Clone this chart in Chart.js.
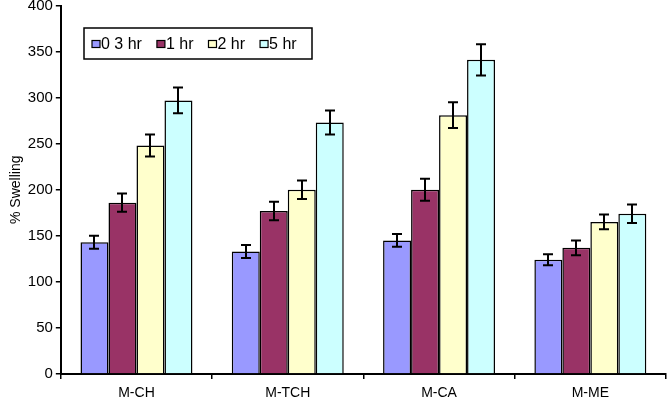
<!DOCTYPE html>
<html>
<head>
<meta charset="utf-8">
<script src="https://cdn.jsdelivr.net/npm/chart.js@4"></script>
<style>
  html, body { margin: 0; padding: 0; background: #fff; width: 667px; height: 400px; overflow: hidden; }
  #wrap { width: 667px; height: 412px; margin-top: -5px; }
</style>
</head>
<body>
<div id="wrap"><canvas id="chart"></canvas></div>
<script>
// samples on the x axis
const categories = ["M-CH", "M-TCH", "M-CA", "M-ME"];

// % swelling at each time
const swell03 = [143, 133, 145, 124];
const swell1 = [186, 177, 200, 137];
const swell2 = [248, 200, 281, 165];
const swell5 = [297, 273, 341, 174];

// error bars (+/-)
const err03 = [7, 7, 7, 6];
const err1 = [10, 10, 12, 8];
const err2 = [12, 10, 14, 8];
const err5 = [14, 13, 17, 10];

const yTicks = [0, 50, 100, 150, 200, 250, 300, 350, 400];

const makeSet = (label, data, errs, color) => ({
  label: label,
  data: data,
  errs: errs,
  backgroundColor: color,
  borderColor: "#000",
  borderWidth: 1.5,
  borderSkipped: "bottom",
});

// draws the +/- error whiskers from dataset.errs
const errorBars = {
  id: "errorBars",
  afterDatasetsDraw(chart) {
    const ctx = chart.ctx;
    const y = chart.scales.y;
    ctx.save();
    ctx.strokeStyle = "#000";
    ctx.lineWidth = 2;
    chart.data.datasets.forEach((ds, i) => {
      const meta = chart.getDatasetMeta(i);
      meta.data.forEach((bar, j) => {
        const v = ds.data[j];
        const e = ds.errs[j];
        const top = y.getPixelForValue(v + e);
        const bot = y.getPixelForValue(v - e);
        const x = Math.round(bar.x);
        ctx.beginPath();
        ctx.moveTo(x, top);
        ctx.lineTo(x, bot);
        ctx.moveTo(x - 5, top);
        ctx.lineTo(x + 5, top);
        ctx.moveTo(x - 5, bot);
        ctx.lineTo(x + 5, bot);
        ctx.stroke();
      });
    });
    ctx.restore();
  },
};

// boxed legend inside the plot (canvas is shifted up 5px by css)
const boxLegend = {
  id: "boxLegend",
  afterDraw(chart) {
    const ctx = chart.ctx;
    const left = 84, top = 33, w = 228, h = 31;
    ctx.save();
    ctx.fillStyle = "#fff";
    ctx.fillRect(left, top, w, h);
    ctx.strokeStyle = "#000";
    ctx.lineWidth = 1.5;
    ctx.strokeRect(left, top, w, h);
    ctx.font = "16px 'Liberation Sans', Arial, sans-serif";
    ctx.textBaseline = "middle";
    let x = left + 8;
    const cy = top + h / 2 + 1;
    chart.data.datasets.forEach((ds) => {
      ctx.fillStyle = ds.backgroundColor;
      ctx.fillRect(x, cy - 4, 8, 7);
      ctx.lineWidth = 1.2;
      ctx.strokeStyle = "#000";
      ctx.strokeRect(x, cy - 4, 8, 7);
      ctx.fillStyle = "#000";
      ctx.fillText(ds.label, x + 9, cy);
      x += 9 + ctx.measureText(ds.label).width + 15;
    });
    ctx.restore();
  },
};

const xFont = { family: "'Liberation Sans', Arial, sans-serif", size: 14, lineHeight: 1 };
const yFont = { family: "'Liberation Sans', Arial, sans-serif", size: 15, lineHeight: 1 };
const titleFont = { family: "'Liberation Sans', Arial, sans-serif", size: 14 };

new Chart(document.getElementById("chart"), {
  type: "bar",
  data: {
    labels: categories,
    datasets: [
      makeSet("0 3 hr", swell03, err03, "#9999ff"),
      makeSet("1 hr", swell1, err1, "#993366"),
      makeSet("2 hr", swell2, err2, "#ffffcc"),
      makeSet("5 hr", swell5, err5, "#ccffff"),
    ],
  },
  options: {
    responsive: true,
    maintainAspectRatio: false,
    animation: false,
    categoryPercentage: 0.74,
    barPercentage: 1,
    layout: { padding: { top: 0, right: 1, left: 0, bottom: 0 } },
    plugins: { legend: { display: false }, tooltip: { enabled: false } },
    scales: {
      x: {
        grid: {
          drawOnChartArea: false,
          drawTicks: true,
          tickLength: 5,
          color: "#000",
          lineWidth: 1.5,
        },
        border: { color: "#000", width: 2 },
        ticks: { color: "#000", font: xFont, padding: 7 },
      },
      y: {
        min: 0,
        max: 400,
        afterBuildTicks: (axis) => {
          axis.ticks = yTicks.map((v) => ({ value: v }));
        },
        grid: {
          drawOnChartArea: false,
          drawTicks: true,
          tickLength: 5,
          color: "#000",
          lineWidth: 1.5,
        },
        border: { color: "#000", width: 2 },
        ticks: { color: "#000", font: yFont, padding: 3 },
        title: {
          display: true,
          text: "% Swelling",
          color: "#000",
          font: titleFont,
          padding: { top: 8, bottom: 0 },
        },
      },
    },
  },
  plugins: [errorBars, boxLegend],
});
</script>
</body>
</html>
